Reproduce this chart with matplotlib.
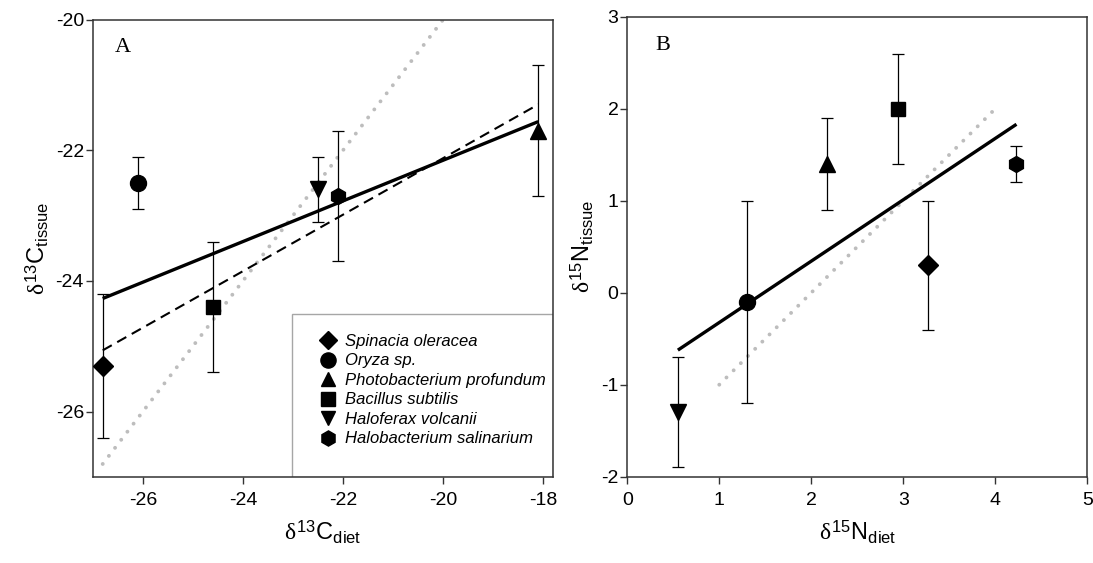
import matplotlib
matplotlib.use("Agg")
import matplotlib.pyplot as plt
import numpy as np
from matplotlib.patches import Rectangle

# species and their mean values (+/- error)
species = [
    "Spinacia oleracea",
    "Oryza sp.",
    "Photobacterium profundum",
    "Bacillus subtilis",
    "Haloferax volcanii",
    "Halobacterium salinarium",
]
markers = ["D", "o", "^", "s", "v", "h"]
marker_sizes = [10, 11.5, 11, 10.5, 11, 11.5]

c_diet = [-26.8, -26.1, -18.1, -24.6, -22.5, -22.1]
c_tissue = [-25.3, -22.5, -21.7, -24.4, -22.6, -22.7]
c_err = [1.1, 0.4, 1.0, 1.0, 0.5, 1.0]

n_diet = [3.27, 1.3, 2.17, 2.94, 0.55, 4.23]
n_tissue = [0.3, -0.1, 1.4, 2.0, -1.3, 1.4]
n_err = [0.7, 1.1, 0.5, 0.6, 0.6, 0.2]

# reference (dotted) lines
c_ref_x = [-26.8, -20.0]
c_ref_y = [-26.8, -20.0]
n_ref_x = [1.0, 4.0]
n_ref_y = [-1.0, 2.0]

plt.rcParams["font.family"] = ["Liberation Sans", "DejaVu Sans"]
plt.rcParams["axes.unicode_minus"] = False
plt.rcParams["mathtext.fontset"] = "custom"
plt.rcParams["mathtext.rm"] = "Liberation Sans"
plt.rcParams["mathtext.it"] = "Liberation Serif"
plt.rcParams["mathtext.bf"] = "Liberation Sans:bold"

SPINE = "#333333"
DOT = "#bdbdbd"


def style_axis(ax):
    for side in ("left", "bottom", "top", "right"):
        ax.spines[side].set_color(SPINE)
        ax.spines[side].set_linewidth(1.1)
    ax.tick_params(axis="both", direction="out", length=4.8, width=1.0,
                   colors=SPINE, labelcolor="black", labelsize=14,
                   top=False, right=False)
    ax.tick_params(axis="x", pad=6)
    ax.tick_params(axis="y", pad=1.5)


def fit_line(ax, x, y, **kw):
    slope, icpt = np.polyfit(x, y, 1)
    xs = np.array([min(x), max(x)])
    ax.plot(xs, slope * xs + icpt, **kw)


def draw_points(ax, xs, ys, errs):
    handles = []
    for x, y, e, m, ms, name in zip(xs, ys, errs, markers, marker_sizes, species):
        h = ax.errorbar(x, y, yerr=e, fmt=m, ms=ms, color="black",
                        mfc="black", mec="black", ecolor="black",
                        elinewidth=0.9, capsize=4.5, capthick=0.9,
                        label=name, zorder=4)
        handles.append(h)
    return handles


fig = plt.figure(figsize=(10.93, 5.63), dpi=100)

# ---- panel A : carbon ----
ax1 = fig.add_axes([0.0848, 0.1527, 0.4214, 0.8125])
ax1.plot(c_ref_x, c_ref_y, color=DOT, lw=2.8, linestyle=(0, (0.01, 2.6)),
         dash_capstyle="round", zorder=1)
fit_line(ax1, c_diet, c_tissue, color="black", lw=2.4, zorder=3,
         solid_capstyle="butt")
no_outlier = [i for i in range(len(species)) if species[i] != "Oryza sp."]
fit_line(ax1, [c_diet[i] for i in no_outlier],
         [c_tissue[i] for i in no_outlier],
         color="black", lw=1.5, linestyle=(0, (5, 3)), zorder=3)
handles = draw_points(ax1, c_diet, c_tissue, c_err)

ax1.set_xlim(-27, -17.8)
ax1.set_ylim(-27, -20)
ax1.set_xticks([-26, -24, -22, -20, -18])
ax1.set_yticks([-26, -24, -22, -20])
style_axis(ax1)
ax1.set_xlabel(r"$\delta^{13}\mathrm{C}_{\mathrm{diet}}$", fontsize=17, labelpad=7)
ax1.set_ylabel(r"$\delta^{13}\mathrm{C}_{\mathrm{tissue}}$", fontsize=17, labelpad=3)
ax1.text(0.048, 0.94, "A", transform=ax1.transAxes, fontsize=16,
         family="Liberation Serif", va="center", ha="left")

ax1.add_patch(Rectangle((0.4327, 0.0), 0.5673, 0.3556, transform=ax1.transAxes,
                        fill=False, edgecolor="#a6a6a6", lw=1.0, zorder=2))
leg = ax1.legend(handles=[h[0] for h in handles], labels=species,
                 loc="upper left", bbox_to_anchor=(0.493, 0.313),
                 frameon=False, fontsize=12, handlelength=1.0,
                 handletextpad=0.5, labelspacing=0.27, borderpad=0.0,
                 borderaxespad=0.0, markerscale=0.95)
for t in leg.get_texts():
    t.set_style("italic")

# ---- panel B : nitrogen ----
ax2 = fig.add_axes([0.5739, 0.1533, 0.4209, 0.8170])
ax2.plot(n_ref_x, n_ref_y, color=DOT, lw=2.8, linestyle=(0, (0.01, 2.6)),
         dash_capstyle="round", zorder=1)
fit_line(ax2, n_diet, n_tissue, color="black", lw=2.4, zorder=3,
         solid_capstyle="butt")
draw_points(ax2, n_diet, n_tissue, n_err)

ax2.set_xlim(0, 5)
ax2.set_ylim(-2, 3)
ax2.set_xticks([0, 1, 2, 3, 4, 5])
ax2.set_yticks([-2, -1, 0, 1, 2, 3])
style_axis(ax2)
ax2.set_xlabel(r"$\delta^{15}\mathrm{N}_{\mathrm{diet}}$", fontsize=17, labelpad=7)
ax2.set_ylabel(r"$\delta^{15}\mathrm{N}_{\mathrm{tissue}}$", fontsize=17, labelpad=4)
ax2.text(0.06, 0.938, "B", transform=ax2.transAxes, fontsize=16,
         family="Liberation Serif", va="center", ha="left")

fig.savefig("out.png", dpi=100, facecolor="white")
